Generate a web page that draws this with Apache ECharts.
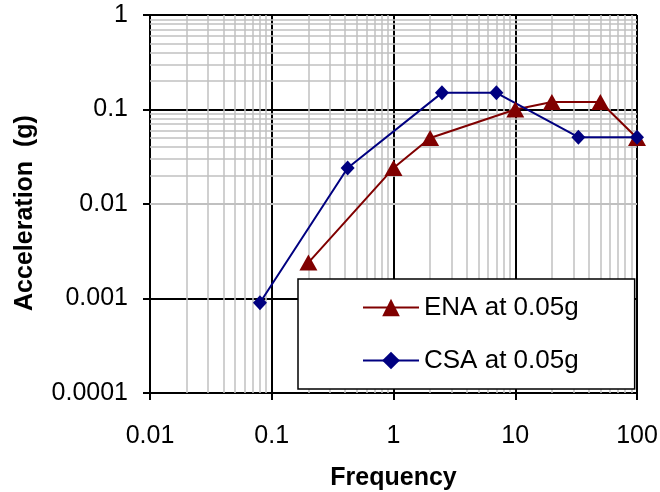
<!DOCTYPE html>
<html>
<head>
<meta charset="utf-8">
<script src="https://cdn.jsdelivr.net/npm/echarts@6/dist/echarts.min.js"></script>
<style>
  html, body { margin: 0; padding: 0; background: #fff; }
  #chart { width: 660px; height: 492px; }
</style>
</head>
<body>
<div id="chart"></div>
<script>
  // values
  var enaFreq = [0.2, 1, 2, 10, 20, 50, 100]
  var enaAcc = [0.0024, 0.024, 0.05, 0.1, 0.12, 0.12, 0.05]
  var csaFreq = [0.08, 0.42, 2.5, 7, 33, 100]
  var csaAcc = [0.0009, 0.024, 0.15, 0.15, 0.051, 0.051]
  var xDecades = [0.01, 0.1, 1, 10]
  var yDecades = [0.0001, 0.001, 0.01, 0.1]
  var minorSteps = [2, 3, 4, 5, 6, 7, 8, 9]

  var font = 'Arial, "Liberation Sans", sans-serif'

  function pairs (xs, ys) {
    return xs.map(function (x, i) { return [x, ys[i]] })
  }

  // light grey minor grid (2..9 in each decade)
  var minorLines = []
  xDecades.forEach(function (d) {
    minorSteps.forEach(function (s) { minorLines.push({ xAxis: +(d * s).toPrecision(6) }) })
  })
  yDecades.forEach(function (d) {
    minorSteps.forEach(function (s) { minorLines.push({ yAxis: +(d * s).toPrecision(6) }) })
  })

  var chart = echarts.init(document.getElementById('chart'))

  var axisCommon = {
    type: 'log',
    logBase: 10,
    nameLocation: 'middle',
    nameTextStyle: { color: '#000', fontFamily: font, fontSize: 25, fontWeight: 'bold' },
    axisLine: { show: true, lineStyle: { color: '#000', width: 2 } },
    axisTick: { show: true, inside: false, length: 7, lineStyle: { color: '#000', width: 2 } },
    axisLabel: {
      color: '#000',
      fontFamily: font,
      fontSize: 25,
      formatter: function (v) { return String(+(+v).toPrecision(6)) }
    },
    splitLine: { show: true, lineStyle: { color: '#000', width: 2 } },
    minorTick: { show: false },
    minorSplitLine: { show: false }
  }

  chart.setOption({
    animation: false,
    backgroundColor: '#fff',
    grid: { left: 150, right: 23, top: 15, bottom: 99, containLabel: false, outerBoundsMode: 'none' },
    xAxis: Object.assign({}, axisCommon, {
      name: 'Frequency',
      nameGap: 73,
      min: 0.01,
      max: 100,
      axisLabel: Object.assign({}, axisCommon.axisLabel, { margin: 31 })
    }),
    yAxis: Object.assign({}, axisCommon, {
      name: 'Acceleration  (g)',
      nameGap: 112,
      min: 0.0001,
      max: 1,
      nameTextStyle: Object.assign({}, axisCommon.nameTextStyle, { padding: [0, 18, 0, 0] }),
      axisLabel: Object.assign({}, axisCommon.axisLabel, { margin: 22 })
    }),
    legend: {
      orient: 'vertical',
      left: 298,
      top: 279,
      z: 10,
      padding: [13, 56, 13, 64],
      itemGap: 22,
      itemWidth: 56,
      itemHeight: 22,
      backgroundColor: '#fff',
      borderColor: '#000',
      borderWidth: 1.5,
      borderRadius: 0,
      data: ['ENA at 0.05g', 'CSA at 0.05g'],
      textStyle: { color: '#000', fontFamily: font, fontSize: 26, lineHeight: 31 }
    },
    series: [
      {
        type: 'line',
        data: [],
        z: 1,
        silent: true,
        markLine: {
          z: 1,
          silent: true,
          symbol: 'none',
          animation: false,
          label: { show: false },
          lineStyle: { color: '#c0c0c0', width: 1.5, type: 'solid' },
          emphasis: { disabled: true },
          data: minorLines
        }
      },
      {
        name: 'ENA at 0.05g',
        type: 'line',
        z: 3,
        data: pairs(enaFreq, enaAcc),
        symbol: 'triangle',
        symbolSize: [18, 16],
        showAllSymbol: true,
        lineStyle: { color: '#800000', width: 2 },
        itemStyle: { color: '#800000' }
      },
      {
        name: 'CSA at 0.05g',
        type: 'line',
        z: 3,
        data: pairs(csaFreq, csaAcc),
        symbol: 'diamond',
        symbolSize: [14, 15],
        showAllSymbol: true,
        lineStyle: { color: '#000080', width: 2 },
        itemStyle: { color: '#000080' }
      }
    ]
  })
</script>
</body>
</html>
